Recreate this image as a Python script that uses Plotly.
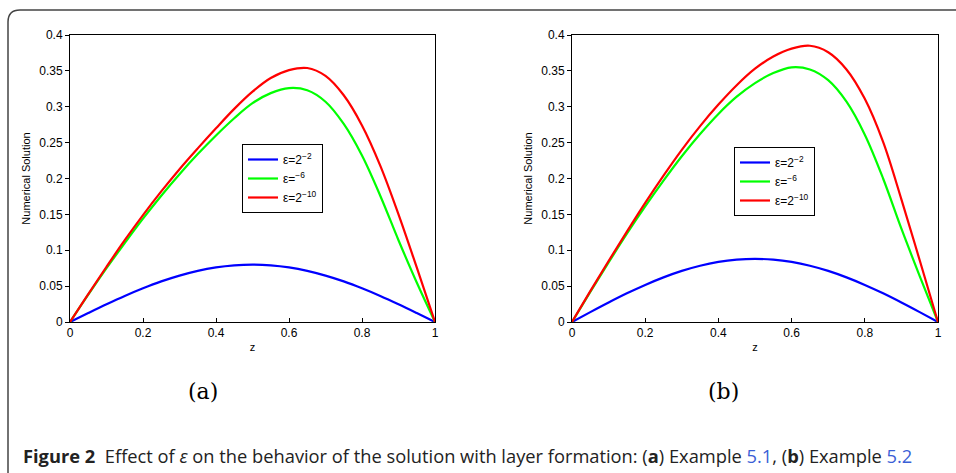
import plotly.graph_objects as go

W, H = 956, 473

z = [0.0, 0.05, 0.1, 0.15, 0.2, 0.25, 0.3, 0.35, 0.4, 0.45, 0.5,
     0.55, 0.6, 0.65, 0.7, 0.75, 0.8, 0.85, 0.9, 0.95, 1.0]

# Example 5.1 (panel a)
a_eps_2 = [0, 0.0125, 0.0247, 0.0363, 0.047, 0.0566, 0.0647, 0.0713, 0.0761, 0.079, 0.080,
           0.079, 0.0761, 0.0713, 0.0647, 0.0566, 0.047, 0.0363, 0.0247, 0.0125, 0]
a_eps_6 = [0, 0.038, 0.075, 0.110, 0.144, 0.176, 0.206, 0.234, 0.260, 0.284, 0.305,
           0.319, 0.326, 0.323, 0.307, 0.276, 0.232, 0.176, 0.114, 0.055, 0]
a_eps_10 = [0, 0.039, 0.077, 0.114, 0.149, 0.182, 0.213, 0.242, 0.270, 0.297, 0.321,
            0.340, 0.351, 0.354, 0.343, 0.316, 0.274, 0.218, 0.150, 0.076, 0]

# Example 5.2 (panel b)
b_eps_2 = [0, 0.0138, 0.0272, 0.040, 0.0517, 0.0622, 0.0712, 0.0784, 0.0837, 0.0869, 0.088,
           0.0869, 0.0837, 0.0784, 0.0712, 0.0622, 0.0517, 0.040, 0.0272, 0.0138, 0]
b_eps_6 = [0, 0.042, 0.083, 0.123, 0.161, 0.197, 0.231, 0.262, 0.290, 0.314, 0.333,
           0.347, 0.355, 0.352, 0.337, 0.307, 0.261, 0.200, 0.130, 0.064, 0]
b_eps_10 = [0, 0.043, 0.085, 0.126, 0.166, 0.204, 0.240, 0.273, 0.303, 0.330, 0.353,
            0.370, 0.381, 0.385, 0.376, 0.352, 0.311, 0.251, 0.171, 0.086, 0]

names = ["ε=2<sup>−2</sup>", "ε=<sup>−6</sup>", "ε=2<sup>−10</sup>"]
colors = ["#0000ff", "#00ff00", "#ff0000"]
xticks = [0, 0.2, 0.4, 0.6, 0.8, 1]
xtick_text = ["0", "0.2", "0.4", "0.6", "0.8", "1"]
yticks = [0, 0.05, 0.1, 0.15, 0.2, 0.25, 0.3, 0.35, 0.4]
ytick_text = ["0", "0.05", "0.1", "0.15", "0.2", "0.25", "0.3", "0.35", "0.4"]

fig = go.Figure()

panels = [
    ("x", "y", "legend", [a_eps_2, a_eps_6, a_eps_10]),
    ("x2", "y2", "legend2", [b_eps_2, b_eps_6, b_eps_10]),
]
for xa, ya, lg, series in panels:
    for name, col, vals in zip(names, colors, series):
        fig.add_trace(go.Scatter(
            x=z, y=vals, mode="lines", name=name,
            line=dict(color=col, width=2.2, shape="spline", smoothing=1.0),
            xaxis=xa, yaxis=ya, legend=lg,
        ))

def px(x):
    return x / W

def py(y):
    return 1 - y / H

axis_font = dict(family="Liberation Sans, Arial, sans-serif", size=12, color="#000")
title_font = dict(family="Liberation Sans, Arial, sans-serif", size=11, color="#000")
common_x = dict(range=[0, 1], tickvals=xticks, ticktext=xtick_text, showline=True,
                linecolor="#000", linewidth=1, mirror=True, ticks="inside", ticklen=4,
                tickcolor="#000", showgrid=False, zeroline=False, tickfont=axis_font,
                automargin=False,
                title=dict(text="z", font=title_font, standoff=3))
common_y = dict(range=[0, 0.4], tickvals=yticks, ticktext=ytick_text, showline=True,
                linecolor="#000", linewidth=1, mirror=True, ticks="outside", ticklen=4,
                tickcolor="#000", showgrid=False, zeroline=False, tickfont=axis_font,
                automargin=False,
                title=dict(text="Numerical Solution", font=title_font, standoff=6))

legend_common = dict(xanchor="left", yanchor="top", bordercolor="#000", borderwidth=1,
                     bgcolor="white", itemwidth=30, tracegroupgap=0,
                     font=dict(family="Liberation Sans, Arial", size=12, color="#000"))

fig.update_layout(
    width=W, height=H, autosize=False,
    margin=dict(l=0, r=0, t=0, b=0, pad=0, autoexpand=False),
    paper_bgcolor="white", plot_bgcolor="white",
    xaxis=dict(domain=[px(70), px(435)], anchor="y", **common_x),
    yaxis=dict(domain=[py(322), py(35)], anchor="x", **common_y),
    xaxis2=dict(domain=[px(572), px(938)], anchor="y2", **common_x),
    yaxis2=dict(domain=[py(322), py(35)], anchor="x2", **common_y),
    legend=dict(x=px(242), y=py(144), **legend_common),
    legend2=dict(x=px(734), y=py(147), **legend_common),
    showlegend=True,
)

# Frame around the figure
fig.add_shape(type="path", xref="paper", yref="paper",
              path=f"M {px(8)},{py(480)} L {px(8)},{py(22)} Q {px(8)},{py(10)} {px(20)},{py(10)} L {px(960)},{py(10)}",
              line=dict(color="#444", width=1.5))

# Panel labels
for label, xc in [("(a)", 203), ("(b)", 723)]:
    fig.add_annotation(text=label, x=px(xc), y=py(391), xref="paper", yref="paper",
                       showarrow=False, xanchor="center", yanchor="middle",
                       font=dict(family="DejaVu Serif, Liberation Serif, serif", size=22, color="#000"))

caption = ("<b>Figure 2</b>  Effect of <i>ε</i> on the behavior of the solution with layer formation: "
           "(<b>a</b>) Example <span style='color:#3a5fd6'>5.1</span>, (<b>b</b>) Example "
           "<span style='color:#3a5fd6'>5.2</span>")
fig.add_annotation(text=caption, x=px(21), y=py(455), xref="paper", yref="paper",
                   showarrow=False, xanchor="left", yanchor="middle",
                   font=dict(family="Liberation Sans Narrow, Open Sans, sans-serif", size=18.3, color="#222"))

fig.write_html("out.html")
